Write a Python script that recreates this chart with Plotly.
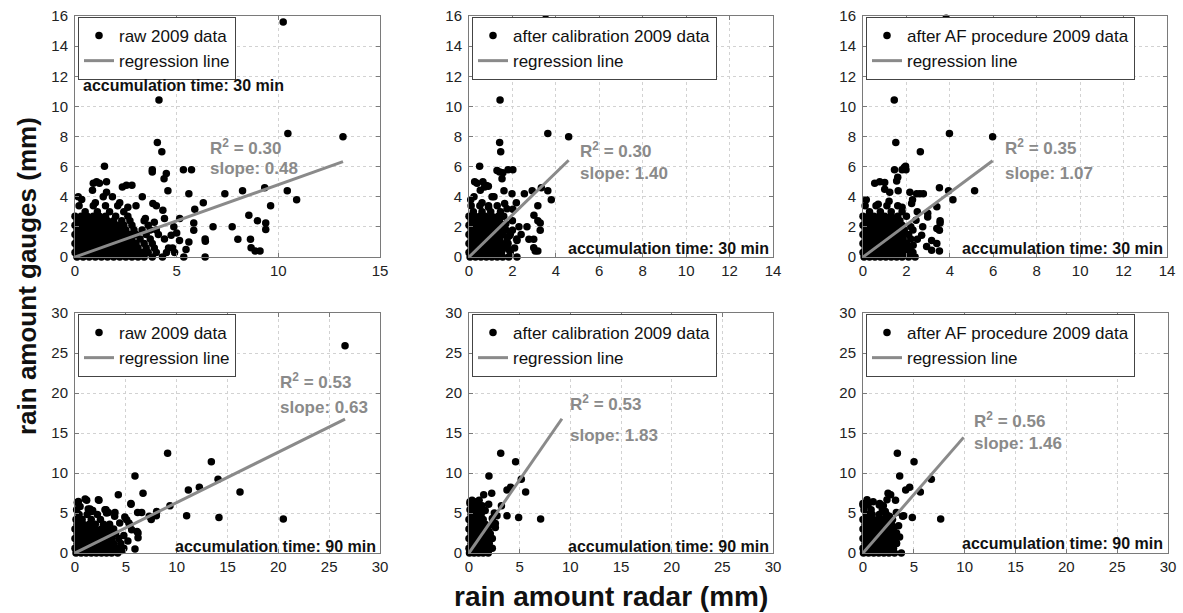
import plotly.graph_objects as go

W, H = 1183, 613

# ---------------- data ----------------
series_names = ["raw 2009 data", "after calibration 2009 data", "after AF procedure 2009 data",
                "raw 2009 data", "after calibration 2009 data", "after AF procedure 2009 data"]
slopes = [0.48, 1.40, 1.07, 0.63, 1.83, 1.46]
r2_values = [0.30, 0.30, 0.35, 0.53, 0.53, 0.56]
accum_times = ["30 min", "30 min", "30 min", "90 min", "90 min", "90 min"]
x_ranges = [[0, 15], [0, 14], [0, 14], [0, 30], [0, 30], [0, 30]]
x_dticks = [5, 2, 2, 5, 5, 5]
y_ranges = [[0, 16], [0, 16], [0, 16], [0, 30], [0, 30], [0, 30]]
y_dticks = [2, 2, 2, 5, 5, 5]

# --- raw, 30 min ---
raw30_out = [(10.24, 15.6), (4.13, 10.42), (4.05, 7.6), (4.27, 6.98), (10.47, 8.2), (13.18, 7.98),
             (1.45, 6.03), (3.8, 5.8), (3.8, 5.65), (5.33, 5.8), (5.73, 5.8), (4.49, 5.54), (4.38, 5.2),
             (4.57, 4.4), (5.6, 4.2), (7.37, 4.2), (8.24, 4.4), (9.33, 4.6), (10.44, 4.4), (10.9, 3.8),
             (3.31, 4.0), (6.31, 3.6), (5.89, 3.17), (7.73, 2.0), (5.84, 2.26), (5.84, 1.78), (6.79, 2.0),
             (6.4, 1.2), (6.41, 1.04), (6.4, 0.0), (5.35, 0.0), (5.46, 0.49), (5.6, 1.0), (8.55, 2.77),
             (8.97, 2.4), (9.38, 2.26), (9.38, 1.82), (9.62, 3.41), (8.63, 1.18), (8.01, 1.18), (8.66, 0.62),
             (8.86, 0.4), (9.1, 0.4), (5.15, 2.55), (4.86, 2.0), (4.73, 1.44), (5.14, 1.1), (3.83, 3.55),
             (4.0, 3.4), (4.32, 3.1), (4.4, 2.55), (3.9, 2.3), (3.7, 1.8), (3.46, 2.55), (2.8, 4.77),
             (2.53, 4.77), (2.33, 4.65), (1.84, 4.0), (1.55, 5.0), (1.06, 5.0), (0.9, 4.9), (1.2, 4.9),
             (0.86, 4.43), (1.55, 4.3), (0.16, 4.0), (0.33, 3.81), (1.39, 4.0), (2.2, 3.6), (2.6, 3.3),
             (1.0, 3.6), (4.9, 0.3), (4.6, 0.6), (5.0, 1.6)]
raw30_rows = [(0.0, [0.1, 0.4, 0.7, 1.0, 1.3, 1.6, 1.9, 2.2, 2.5, 2.8, 3.1, 3.4, 3.8, 4.3]),
              (0.3, [0.0, 0.3, 0.6, 0.9, 1.2, 1.5, 1.8, 2.1, 2.4, 2.7, 3.0, 3.3, 3.6, 4.0, 4.5]),
              (0.6, [0.1, 0.4, 0.7, 1.0, 1.3, 1.6, 1.9, 2.2, 2.5, 2.8, 3.1, 3.5, 3.9, 4.8]),
              (0.9, [0.0, 0.3, 0.6, 0.9, 1.2, 1.5, 1.8, 2.1, 2.4, 2.7, 3.0, 3.4, 3.8]),
              (1.2, [0.1, 0.4, 0.7, 1.0, 1.3, 1.6, 1.9, 2.2, 2.5, 2.8, 3.2, 3.7, 4.4]),
              (1.5, [0.0, 0.3, 0.6, 0.9, 1.2, 1.5, 1.8, 2.1, 2.4, 2.7, 3.0, 3.5, 4.1]),
              (1.8, [0.1, 0.4, 0.7, 1.0, 1.3, 1.6, 1.9, 2.2, 2.5, 2.9, 3.3, 4.0]),
              (2.1, [0.0, 0.3, 0.6, 0.9, 1.2, 1.5, 1.8, 2.1, 2.4, 2.8, 3.6]),
              (2.4, [0.1, 0.4, 0.7, 1.0, 1.3, 1.6, 1.9, 2.3, 2.7, 3.4]),
              (2.7, [0.0, 0.3, 0.6, 0.9, 1.2, 1.5, 2.0, 2.6]),
              (3.0, [0.5, 1.1, 1.7, 2.4]),
              (3.4, [0.2, 0.9, 1.5, 2.1, 3.0])]

# --- after calibration, 30 min ---
cal30_out = [(3.53, 15.8), (1.43, 10.42), (1.41, 7.6), (1.46, 6.98), (3.63, 8.2), (4.59, 7.98),
             (0.49, 6.03), (1.29, 5.75), (1.41, 5.65), (1.8, 5.8), (2.02, 5.8), (1.56, 5.6), (1.52, 5.2),
             (1.61, 4.4), (1.98, 4.2), (2.55, 4.2), (2.91, 4.4), (3.33, 4.6), (3.63, 4.4), (3.79, 3.8),
             (1.15, 4.0), (2.18, 3.6), (2.02, 3.17), (2.67, 2.0), (2.0, 1.78), (2.3, 2.0), (2.21, 1.1),
             (2.21, 0.0), (1.83, 0.0), (1.84, 0.49), (2.99, 2.77), (3.17, 2.4), (3.28, 2.26), (3.28, 1.78),
             (3.17, 3.41), (2.98, 1.18), (2.76, 1.18), (2.98, 0.62), (3.05, 0.4), (3.17, 0.4), (0.64, 5.0),
             (0.26, 5.0), (0.37, 4.9), (0.89, 4.7), (0.8, 4.75), (0.72, 4.65), (0.23, 4.0), (0.08, 3.8),
             (1.06, 4.0), (0.52, 4.43), (1.64, 3.55), (1.75, 3.2), (1.3, 2.55), (1.6, 2.7), (1.7, 2.2),
             (1.85, 1.4), (1.7, 0.9), (2.0, 2.4), (2.4, 1.5), (0.6, 3.6), (0.9, 3.3)]
cal30_rows = [(0.0, [0.05, 0.3, 0.55, 0.8, 1.05, 1.3, 1.55]),
              (0.3, [0.0, 0.25, 0.5, 0.75, 1.0, 1.25, 1.5, 1.9]),
              (0.6, [0.1, 0.35, 0.6, 0.85, 1.1, 1.35, 1.65, 2.1]),
              (0.9, [0.0, 0.25, 0.5, 0.75, 1.0, 1.25, 1.5, 1.8]),
              (1.2, [0.1, 0.35, 0.6, 0.85, 1.1, 1.4, 1.75, 2.2]),
              (1.5, [0.0, 0.25, 0.5, 0.75, 1.0, 1.25, 1.55, 1.9]),
              (1.8, [0.1, 0.35, 0.6, 0.85, 1.1, 1.4, 1.7]),
              (2.1, [0.0, 0.25, 0.5, 0.75, 1.0, 1.3, 1.6]),
              (2.4, [0.1, 0.35, 0.6, 0.85, 1.1, 1.4]),
              (2.7, [0.0, 0.25, 0.5, 0.75, 1.05, 1.35]),
              (3.0, [0.2, 0.6, 1.0, 1.45]),
              (3.4, [0.1, 0.5, 0.9, 1.3])]

# --- after AF procedure, 30 min ---
af30_out = [(3.83, 15.85), (1.44, 10.42), (1.51, 7.6), (2.64, 6.98), (3.98, 8.2), (5.97, 7.98),
            (5.14, 4.4), (4.14, 3.8), (3.94, 4.4), (3.52, 4.6), (1.45, 5.8), (1.8, 5.8), (1.98, 5.8),
            (1.9, 5.95), (1.96, 6.03), (1.6, 5.3), (1.55, 5.05), (0.77, 5.0), (1.0, 4.95), (0.54, 4.9),
            (0.15, 3.8), (1.23, 4.3), (1.62, 4.4), (2.16, 4.3), (2.47, 4.2), (2.62, 4.2), (2.78, 4.2),
            (2.28, 3.8), (2.24, 3.55), (3.4, 3.33), (2.98, 2.9), (2.98, 2.66), (3.55, 2.4), (3.55, 2.26),
            (3.52, 1.78), (3.4, 1.9), (3.16, 1.1), (3.4, 0.9), (3.52, 0.4), (3.16, 0.44), (2.93, 0.7),
            (2.7, 1.44), (2.5, 1.18), (2.31, 0.78), (2.75, 2.0), (2.44, 2.44), (2.3, 1.8), (2.2, 2.0),
            (1.2, 3.7), (0.7, 3.5), (1.8, 3.3), (2.5, 3.0), (1.0, 4.5)]
af30_rows = [(0.0, [0.05, 0.3, 0.55, 0.8, 1.05, 1.3, 1.55, 1.8, 2.1, 2.4]),
             (0.3, [0.0, 0.25, 0.5, 0.75, 1.0, 1.25, 1.5, 1.75, 2.0, 2.3]),
             (0.6, [0.1, 0.35, 0.6, 0.85, 1.1, 1.35, 1.6, 1.85, 2.15]),
             (0.9, [0.0, 0.25, 0.5, 0.75, 1.0, 1.25, 1.5, 1.75, 2.0]),
             (1.2, [0.1, 0.35, 0.6, 0.85, 1.1, 1.35, 1.6, 1.85, 2.2]),
             (1.5, [0.0, 0.25, 0.5, 0.75, 1.0, 1.25, 1.5, 1.8, 2.1]),
             (1.8, [0.1, 0.35, 0.6, 0.85, 1.1, 1.35, 1.6, 1.9]),
             (2.1, [0.0, 0.25, 0.5, 0.75, 1.0, 1.25, 1.5, 1.8]),
             (2.4, [0.1, 0.35, 0.6, 0.85, 1.1, 1.4, 1.7]),
             (2.7, [0.0, 0.25, 0.5, 0.75, 1.0, 1.3, 1.6, 2.0]),
             (3.0, [0.3, 0.8, 1.3, 1.8]),
             (3.4, [0.1, 0.6, 1.1, 1.6])]

# --- raw, 90 min ---
raw90_out = [(26.56, 25.9), (9.11, 12.46), (13.41, 11.42), (5.9, 9.64), (14.07, 9.22), (11.15, 7.89),
             (12.23, 8.22), (16.23, 7.64), (6.69, 7.48), (4.26, 7.27), (20.49, 4.24), (10.98, 4.65),
             (14.16, 4.45), (9.34, 5.9), (8.03, 5.19), (8.0, 4.65), (7.3, 4.6), (7.5, 4.2), (5.51, 6.1),
             (6.16, 5.07), (6.56, 5.07), (1.15, 6.6), (0.23, 6.3), (2.36, 6.6), (0.5, 5.8), (1.48, 5.5),
             (1.74, 5.3), (3.05, 5.4), (3.28, 5.07), (3.93, 5.07), (3.9, 4.6), (4.9, 4.5), (5.08, 4.15),
             (4.4, 3.75), (5.3, 3.75), (5.4, 3.5), (5.57, 2.9), (6.1, 2.7), (6.2, 2.5), (6.2, 1.9),
             (5.9, 0.5), (4.6, 0.3), (5.2, 1.5), (4.8, 2.2), (1.0, 6.75), (0.33, 6.45), (2.3, 6.67),
             (0.16, 5.4), (1.3, 5.5), (1.64, 5.2), (2.95, 5.4), (3.1, 5.0), (5.5, 6.2)]
raw90_rows = [(0.0, [0.1, 0.6, 1.1, 1.6, 2.1, 2.6, 3.1, 3.6, 4.2]),
              (0.6, [0.0, 0.5, 1.0, 1.5, 2.0, 2.5, 3.0, 3.5, 4.1, 4.8]),
              (1.2, [0.2, 0.7, 1.2, 1.7, 2.2, 2.7, 3.2, 3.8, 4.5]),
              (1.8, [0.0, 0.5, 1.0, 1.5, 2.0, 2.5, 3.0, 3.6, 4.3]),
              (2.4, [0.2, 0.7, 1.2, 1.7, 2.2, 2.7, 3.3, 4.0]),
              (3.0, [0.0, 0.5, 1.0, 1.5, 2.0, 2.6, 3.2, 3.8]),
              (3.6, [0.2, 0.8, 1.4, 2.0, 2.8, 3.4]),
              (4.2, [0.1, 0.7, 1.6, 2.5]),
              (4.8, [0.4, 1.2, 2.2])]

# --- after calibration, 90 min ---
cal90_out = [(9.17, 25.9), (3.13, 12.46), (4.6, 11.42), (1.97, 9.64), (5.16, 9.22), (3.75, 7.89),
             (4.11, 8.22), (5.59, 7.64), (2.24, 7.48), (1.45, 7.27), (7.07, 4.24), (3.75, 4.65),
             (4.9, 4.45), (3.2, 5.9), (2.76, 4.65), (2.6, 3.7), (1.94, 6.1), (2.5, 5.0), (2.3, 3.5),
             (1.97, 2.7), (2.0, 0.6), (2.2, 1.8), (2.6, 3.2), (2.3, 4.3), (1.6, 5.3), (0.3, 6.6),
             (1.0, 6.6), (0.1, 6.2), (1.3, 5.9)]
cal90_rows = [(0.0, [0.05, 0.5, 0.95, 1.4, 1.9]),
              (0.6, [0.0, 0.45, 0.9, 1.35, 1.8, 2.3]),
              (1.2, [0.2, 0.65, 1.1, 1.55, 2.0]),
              (1.8, [0.0, 0.45, 0.9, 1.35, 1.8, 2.3]),
              (2.4, [0.2, 0.65, 1.1, 1.55, 2.1]),
              (3.0, [0.0, 0.45, 0.9, 1.35, 1.8]),
              (3.6, [0.2, 0.65, 1.1, 1.6, 2.3]),
              (4.2, [0.0, 0.45, 0.9, 1.4]),
              (4.8, [0.2, 0.7, 1.2]),
              (5.4, [0.1, 0.6, 1.1]),
              (6.0, [0.3, 0.8]),
              (6.4, [0.1, 0.55, 0.9])]

# --- after AF procedure, 90 min ---
af90_out = [(9.9, 25.9), (3.38, 12.46), (5.02, 11.42), (3.61, 9.64), (6.72, 9.22), (4.2, 7.89),
            (4.59, 8.22), (5.64, 7.64), (2.46, 7.48), (2.72, 7.27), (7.64, 4.24), (4.0, 4.65),
            (4.85, 4.45), (3.2, 6.6), (0.4, 6.65), (0.0, 6.2), (1.64, 6.2), (2.2, 5.2), (2.6, 4.6),
            (2.9, 4.2), (2.36, 6.65), (3.28, 5.07), (3.28, 1.25), (3.77, 0.0), (3.5, 3.4), (3.3, 2.5),
            (3.6, 2.0), (3.9, 4.6), (1.0, 6.4), (2.0, 5.9)]
af90_rows = [(0.0, [0.05, 0.55, 1.05, 1.55, 2.05, 2.55, 3.1]),
             (0.6, [0.0, 0.5, 1.0, 1.5, 2.0, 2.5, 3.0]),
             (1.2, [0.2, 0.7, 1.2, 1.7, 2.2, 2.7, 3.3]),
             (1.8, [0.0, 0.5, 1.0, 1.5, 2.0, 2.5, 3.0]),
             (2.4, [0.2, 0.7, 1.2, 1.7, 2.2, 2.7, 3.2]),
             (3.0, [0.0, 0.5, 1.0, 1.5, 2.0, 2.5, 3.0]),
             (3.6, [0.2, 0.7, 1.2, 1.7, 2.2, 2.8]),
             (4.2, [0.0, 0.5, 1.0, 1.5, 2.0, 2.5]),
             (4.8, [0.3, 0.9, 1.6, 2.3]),
             (5.4, [0.1, 0.8, 1.9]),
             (6.0, [0.0, 0.5, 1.6])]

panel_data = [(raw30_out, raw30_rows), (cal30_out, cal30_rows), (af30_out, af30_rows),
              (raw90_out, raw90_rows), (cal90_out, cal90_rows), (af90_out, af90_rows)]

# ---------------- layout geometry (pixels) ----------------
# (left, right, top, bottom) of each plot area
boxes = [(75, 380, 16, 257), (469, 773, 16, 257), (863, 1167, 16, 257),
         (75, 380, 313, 553), (469, 773, 313, 553), (863, 1168, 313, 553)]
legend_pos = [(78, 17), (472, 17), (866, 17), (78, 314), (472, 314), (866, 314)]
r2_pos = [(208, 147, 168), (578, 150, 173), (1003, 147, 173),
          (278, 381, 407), (568, 403, 435), (972, 420, 443)]
acc_pos = [(81, 85, "left"), (771, 248, "right"), (1165, 248, "right"),
           (378, 546, "right"), (771, 546, "right"), (1165, 543, "right")]


def fx(px):
    return px / W


def fy(py):
    return 1 - py / H


FONT = "Arial, Liberation Sans, sans-serif"
GRAY = "#8a8a8a"

fig = go.Figure()
layout = dict(width=W, height=H, margin=dict(l=0, r=0, t=0, b=0, autoexpand=False),
              template="none",
              paper_bgcolor="white", plot_bgcolor="white", showlegend=True,
              font=dict(family=FONT, color="#111"))
annotations = []

for i in range(6):
    k = "" if i == 0 else str(i + 1)
    out, rows = panel_data[i]
    xs = [p[0] for p in out] + [x for yv, xl in rows for x in xl]
    ys = [p[1] for p in out] + [yv for yv, xl in rows for x in xl]
    leg = "legend" + k
    fig.add_trace(go.Scatter(x=xs, y=ys, mode="markers", name=series_names[i],
                             marker=dict(color="black", size=7.5, line=dict(width=0)),
                             xaxis="x" + k, yaxis="y" + k, legend=leg, cliponaxis=False))
    xmax = max(xs)
    fig.add_trace(go.Scatter(x=[0, xmax], y=[0, slopes[i] * xmax], mode="lines",
                             name="regression line", line=dict(color=GRAY, width=3),
                             xaxis="x" + k, yaxis="y" + k, legend=leg))
    l, r, t, b = boxes[i]
    axis_common = dict(showline=True, linecolor="#7a7a7a", linewidth=1, mirror="ticks",
                       ticks="inside", ticklen=4, tickcolor="#7a7a7a", automargin=False,
                       showgrid=True, gridcolor="#d2d2d2", griddash="dot", gridwidth=1,
                       zeroline=False, tickfont=dict(family=FONT, size=15, color="#222"))
    layout["xaxis" + k] = dict(domain=[fx(l), fx(r)], range=x_ranges[i], dtick=x_dticks[i],
                               tick0=0, anchor="y" + k, **axis_common)
    layout["yaxis" + k] = dict(domain=[fy(b), fy(t)], range=y_ranges[i], dtick=y_dticks[i],
                               tick0=0, anchor="x" + k, ticklabelstandoff=3, **axis_common)
    lx, ly = legend_pos[i]
    layout[leg] = dict(x=fx(lx), y=fy(ly), xanchor="left", yanchor="top",
                       bgcolor="white", bordercolor="#444", borderwidth=1,
                       font=dict(family=FONT, size=17, color="#111"),
                       traceorder="normal", itemclick=False, tracegroupgap=0)
    rx, ry1, ry2 = r2_pos[i]
    annotations.append(dict(x=fx(rx), y=fy(ry1), xref="paper", yref="paper", showarrow=False,
                            xanchor="left", yanchor="middle",
                            text="<b>R<sup>2</sup> = %.2f</b>" % r2_values[i],
                            font=dict(family=FONT, size=17, color=GRAY)))
    annotations.append(dict(x=fx(rx), y=fy(ry2), xref="paper", yref="paper", showarrow=False,
                            xanchor="left", yanchor="middle",
                            text="<b>slope: %.2f</b>" % slopes[i],
                            font=dict(family=FONT, size=17, color=GRAY)))
    ax_, ay_, anc = acc_pos[i]
    annotations.append(dict(x=fx(ax_), y=fy(ay_), xref="paper", yref="paper", showarrow=False,
                            xanchor=anc, yanchor="middle",
                            text="<b>accumulation time: %s</b>" % accum_times[i],
                            font=dict(family=FONT, size=16, color="#111")))

annotations.append(dict(x=fx(611), y=fy(596), xref="paper", yref="paper", showarrow=False,
                        xanchor="center", yanchor="middle", text="<b>rain amount radar (mm)</b>",
                        font=dict(family=FONT, size=28, color="#111")))
annotations.append(dict(x=fx(27), y=fy(276), xref="paper", yref="paper", showarrow=False,
                        xanchor="center", yanchor="middle", textangle=-90,
                        text="<b>rain amount gauges (mm)</b>",
                        font=dict(family=FONT, size=26, color="#111")))
layout["annotations"] = annotations
fig.update_layout(**layout)
fig.write_html("out.html", config={"displayModeBar": False},
               post_script="document.body.style.margin='0px';document.body.style.overflow='hidden';")
